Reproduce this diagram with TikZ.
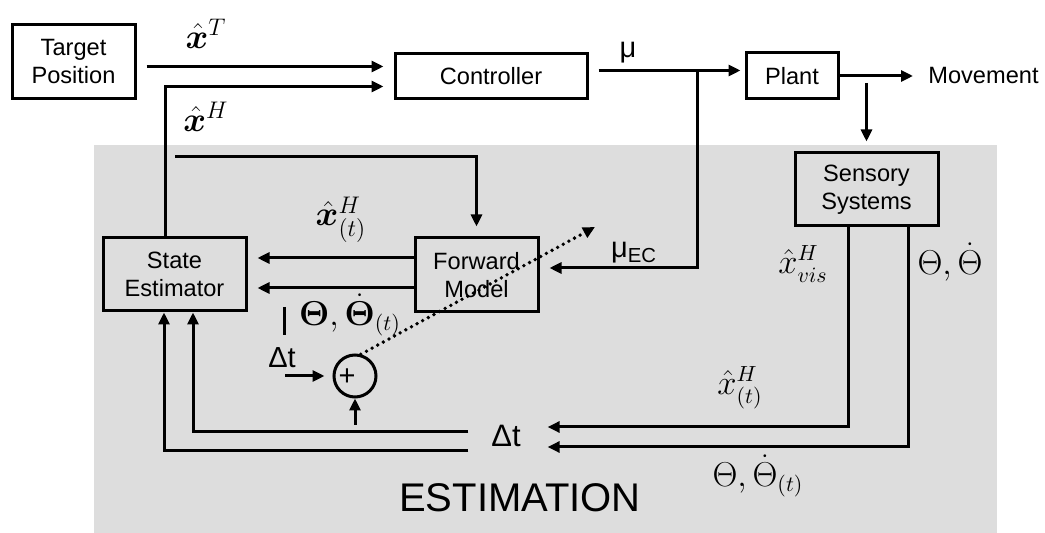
\documentclass[tikz,border=0pt]{standalone}
\usepackage{amsmath}
\usepackage{bm}
\usepackage{fontspec}
\setmainfont{Liberation Sans}
\usepackage{xcolor}
\usepackage{tikz}
\usetikzlibrary{arrows.meta}
\definecolor{estgray}{RGB}{221, 221, 221}

\begin{document}
\begin{tikzpicture}[x=0.5pt, y=-0.5pt,
    blk/.style={draw, line width=1.5pt, inner sep=0pt, align=center, font=\fontsize{11.8}{14}\selectfont},
    arr/.style={line width=1.5pt, -{Triangle[length=6pt,width=5.5pt]}, shorten >=5pt},
    gap/.style={shorten <=5pt},
    dotarr/.style={line width=1.9pt, line cap=round, dash pattern=on 0pt off 3.2pt, -{Triangle[length=6pt,width=5.5pt]}},
    txt/.style={font=\fontsize{11.8}{14}\selectfont},
    sym/.style={font=\fontsize{14.5}{16}\selectfont, inner sep=1pt},
    bigx/.style={font=\fontsize{18}{20}\selectfont, inner sep=0pt},
    midx/.style={font=\fontsize{16}{18}\selectfont, inner sep=0pt}]
        \fill[white] (0,0) rectangle (1045,533);
        \useasboundingbox (0,0) rectangle (1045,533);
        \fill[estgray] (94,145) rectangle (997,533);
        \node[blk, minimum width=61.5pt, minimum height=37pt] (tgt) at (73.5,62) {Target\\Position};
        \node[blk, minimum width=96pt, minimum height=22.5pt] (ctrl) at (491,76.5) {Controller};
        \node[blk, minimum width=46pt, minimum height=23pt] (plant) at (792,76) {Plant};
        \node[blk, minimum width=71.5pt, minimum height=36.5pt] (sens) at (866.5,189.5) {Sensory\\Systems};
        \node[blk, minimum width=71.5pt, minimum height=36.5pt] (est) at (174.5,274.5) {State\\Estimator};
        \node[blk, minimum width=61.5pt, minimum height=37pt] (fwd) at (476.5,275) {Forward\\Model};
        \node[draw, circle, line width=1.5pt, minimum size=21pt, inner sep=0pt] (sum) at (355,376) {};
        \node[sym, inner sep=0pt] (plus) at (347,377) {+};
        \node[txt, anchor=west, inner xsep=7.5pt] (mov) at (913,76) {Movement};
        \node[sym, font=\fontsize{15.5}{17}\selectfont, inner sep=3.3pt] (dt) at (506,436) {Δt};
        \node[sym] (dtl) at (282,358) {Δt};
        \node[font=\fontsize{20}{22}\selectfont] (estlbl) at (520,498) {ESTIMATION};
        \node[sym] (mu) at (628,53) {μ};
        \node[sym] (muec) at (634,253) {μ\textsubscript{EC}};
        \node[bigx] (xT) at (206,34) {$\hat{\bm{x}}^{T}$};
        \node[bigx] (xH) at (206,117) {$\hat{\bm{x}}^{H}$};
        \node[bigx] (xHt) at (341,220) {$\hat{\bm{x}}^{H}_{(t)}$};
        \node[midx] (xvis) at (803,264) {$\hat{x}^{H}_{vis}$};
        \node[midx] (xHtr) at (740,388) {$\hat{x}^{H}_{(t)}$};
        \node[midx] (thfwd) at (350,315) {$\bm{\Theta},\bm{\dot{\Theta}}_{(t)}$};
        \node[midx] (thsens) at (950,262) {$\Theta,\dot{\Theta}$};
        \node[midx] (thbot) at (758,476) {$\Theta,\dot{\Theta}_{(t)}$};
        \coordinate (xhstart) at (175,157);
        \coordinate (mubr) at (697,70.5);
        \coordinate (sbr) at (866.5,83);
        \coordinate (sumin) at (355,425);
        \coordinate (dtin) at (285,376);
        \coordinate (dotend) at (595,227);
        \draw[arr, gap] ([yshift=5pt]ctrl.west -| tgt.east) -- ([yshift=5pt]ctrl.west);
        \draw[arr] ([xshift=-4.75pt]est.north) |- ([yshift=-5pt]ctrl.west);
        \draw[arr] (xhstart) -| (fwd.north);
        \draw[arr] ([yshift=8.5pt]fwd.west) -- ([yshift=8.5pt]fwd.west -| est.east);
        \draw[arr] ([yshift=-6.5pt]fwd.west) -- ([yshift=-6.5pt]fwd.west -| est.east);
        \draw[arr, gap, shorten >=2pt] ([yshift=3pt]ctrl.east) -- ([yshift=3pt]ctrl.east -| plant.west);
        \draw[arr] (mubr) |- ([yshift=3.5pt]fwd.east);
        \draw[arr, shorten >=0pt] (plant.east) -- (mov.west);
        \draw[arr] (sbr) -- (sens.north);
        \draw[arr, shorten >=10pt] ([xshift=-9.25pt]sens.south) |- ([yshift=4.5pt]dt.east);
        \draw[arr, shorten >=10pt] ([xshift=20.75pt]sens.south) |- ([yshift=-5.5pt]dt.east);
        \draw[arr, shorten <=8pt, shorten >=0pt] ([yshift=2pt]dt.west) -| ([xshift=9.25pt]est.south);
        \draw[arr, shorten <=8pt, shorten >=0pt] ([yshift=-7.5pt]dt.west) -| ([xshift=-5.25pt]est.south);
        \draw[arr, shorten >=0pt] (sumin) -- (sum.south);
        \draw[arr, shorten >=4pt] (dtin) -- (sum.west);
        \draw[dotarr] (sum.75) -- (dotend);
        \draw[line width=1.5pt] (284,307) -- (284,335);
      \end{tikzpicture}
\end{document}
